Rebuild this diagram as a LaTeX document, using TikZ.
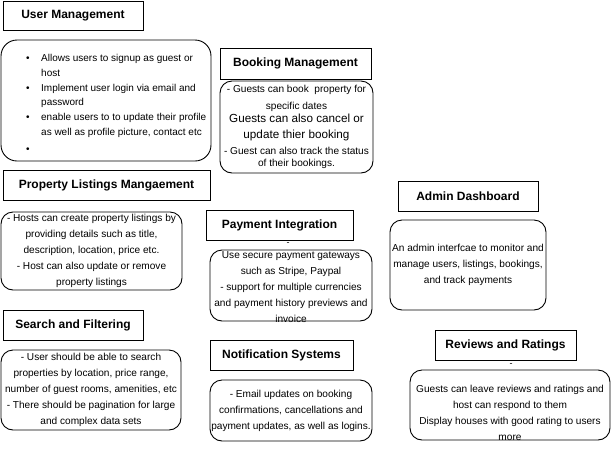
\documentclass[tikz,border=0pt]{standalone}
\usepackage{fontspec}
\setmainfont{Liberation Sans}
\usetikzlibrary{positioning}
\tikzset{
  cajaTitulo/.style={
    draw=black, line width=0.9pt, inner sep=0pt,
    align=center, font=\fontsize{12}{14}\selectfont\bfseries
  },
  cajaContenido/.style={
    draw=black, line width=0.9pt, rounded corners=12pt, inner sep=0pt,
    align=center, font=\fontsize{10.1}{16}\selectfont
  },
  textoLibre/.style={inner sep=0pt, align=center, font=\fontsize{10.1}{16}\selectfont},
  guion/.style={font=\fontsize{9}{9}\selectfont, inner sep=0pt},
}
\begin{document}
\begin{tikzpicture}[x=1pt, y=-1pt]
  \useasboundingbox (0,0) rectangle (611,456);

  % titulos
  \node[cajaTitulo, minimum width=140pt, minimum height=29pt] (umT) at (73,15.5) {User Management};
  \node[cajaTitulo, minimum width=151pt, minimum height=31pt] (bmT) at (295.5,63.5) {Booking Management};
  \node[cajaTitulo, minimum width=207pt, minimum height=30pt] (plT) at (106.5,185) {Property Listings Mangaement};
  \node[cajaTitulo, minimum width=147pt, minimum height=30pt] (piT) at (279.5,225) {Payment Integration};
  \node[cajaTitulo, minimum width=140pt, minimum height=30pt] (adT) at (468,196) {Admin Dashboard};
  \node[cajaTitulo, minimum width=140pt, minimum height=30pt] (sfT) at (73,325) {Search and Filtering};
  \node[cajaTitulo, minimum width=143pt, minimum height=30pt] (nsT) at (281.5,355) {Notification Systems};
  \node[cajaTitulo, minimum width=141pt, minimum height=30pt] (rrT) at (505.5,345) {Reviews and Ratings};

  % contenidos
  \node[cajaContenido, rounded corners=16pt, minimum width=210pt, minimum height=121pt] (umC) at (106,100.5) {};
  \node[anchor=north west, align=left, inner sep=0pt, font=\fontsize{10}{14.8}\selectfont] (umL) at (26,54)
    {\makebox[15pt][l]{\textbullet}Allows users to signup as guest or\\
     \hspace*{15pt}host\\
     \makebox[15pt][l]{\textbullet}Implement user login via email and\\
     \hspace*{15pt}password\\
     \makebox[15pt][l]{\textbullet}enable users to to update their profile\\
     \hspace*{15pt}as well as profile picture, contact etc\\[2pt]
     \makebox[15pt][l]{\textbullet}};

  \node[cajaContenido, minimum width=153pt, minimum height=92pt] (bmC) at (296.5,127)
    {- Guests can book\ \ property for\\[1pt]
     specific dates\\[-3pt]
     {\fontsize{11.7}{14}\selectfont Guests can also cancel or}\\[-0.5pt]
     {\fontsize{11.7}{14}\selectfont update thier booking}\\
     - Guest can also track the status\\[-4pt]
     of their bookings.};

  \node[cajaContenido, minimum width=181pt, minimum height=78pt] (plC) at (91.5,251)
    {- Hosts can create property listings by\\
     providing details such as title,\\
     description, location, price etc.\\
     - Host can also update or remove\\
     property listings};

  \node[guion] (d1) at (288,244.5) {-};
  \node[cajaContenido, minimum width=162pt, minimum height=71pt] (piC) at (291,285.5) {};
  \node[textoLibre] (piL) at (291,287)
    {Use secure payment gateways\\
     such as Stripe, Paypal\\
     - support for multiple currencies\\
     and payment history previews and\\
     invoice};

  \node[cajaContenido, minimum width=156pt, minimum height=90pt] (adC) at (468,265)
    {An admin interfcae to monitor and\\
     manage users, listings, bookings,\\
     and track payments};

  \node[cajaContenido, minimum width=180pt, minimum height=80pt] (sfC) at (91,390)
    {- User should be able to search\\
     properties by location, price range,\\
     number of guest rooms, amenities, etc\\
     - There should be pagination for large\\
     and complex data sets};

  \node[cajaContenido, minimum width=162pt, minimum height=61pt] (nsC) at (291,410.5)
    {- Email updates on booking\\
     confirmations, cancellations and\\
     payment updates, as well as logins.};

  \node[guion] (d2) at (511,365.5) {-};
  \node[cajaContenido, minimum width=200pt, minimum height=70pt] (rrC) at (510,405) {};
  \node[textoLibre] (rrL) at (510,413)
    {Guests can leave reviews and ratings and\\
     host can respond to them\\
     Display houses with good rating to users\\
     more};
\end{tikzpicture}
\end{document}
